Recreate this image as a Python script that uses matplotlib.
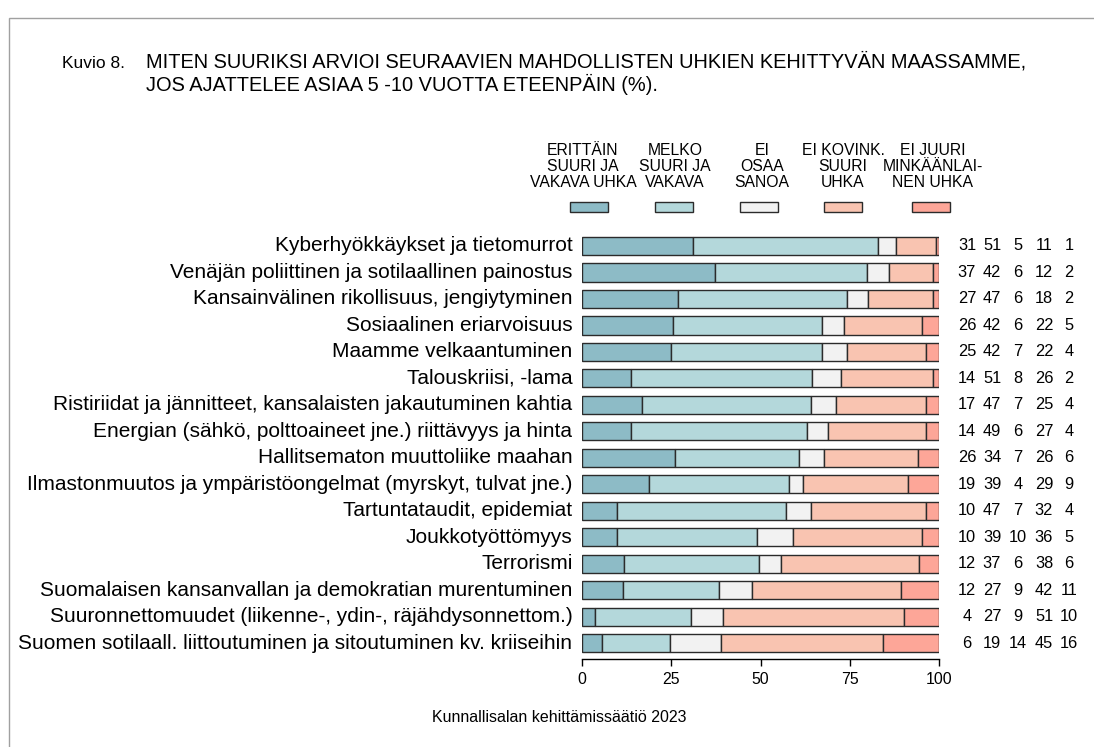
import matplotlib
matplotlib.use("Agg")
import matplotlib.pyplot as plt
import matplotlib.patches as mpatches

plt.rcParams["font.family"] = ["Liberation Sans", "DejaVu Sans"]

# ── data ─────────────────────────────────────────────────────────────────────
categories = [
    "Kyberhyökkäykset ja tietomurrot",
    "Venäjän poliittinen ja sotilaallinen painostus",
    "Kansainvälinen rikollisuus, jengiytyminen",
    "Sosiaalinen eriarvoisuus",
    "Maamme velkaantuminen",
    "Talouskriisi, -lama",
    "Ristiriidat ja jännitteet, kansalaisten jakautuminen kahtia",
    "Energian (sähkö, polttoaineet jne.) riittävyys ja hinta",
    "Hallitsematon muuttoliike maahan",
    "Ilmastonmuutos ja ympäristöongelmat (myrskyt, tulvat jne.)",
    "Tartuntataudit, epidemiat",
    "Joukkotyöttömyys",
    "Terrorismi",
    "Suomalaisen kansanvallan ja demokratian murentuminen",
    "Suuronnettomuudet (liikenne-, ydin-, räjähdysonnettom.)",
    "Suomen sotilaall. liittoutuminen ja sitoutuminen kv. kriiseihin",
]

# bar lengths (unrounded)
very_big = [31.2, 37.3, 27.0, 25.6, 24.9, 13.7, 16.8, 13.8, 26.2, 18.8, 9.8, 9.8, 11.9, 11.6, 3.8, 5.8]
fairly_big = [51.7, 42.6, 47.1, 41.7, 42.2, 50.6, 47.2, 49.3, 34.5, 39.2, 47.2, 39.1, 37.6, 26.9, 26.8, 19.0]
dont_know = [5.0, 6.1, 6.0, 6.0, 7.0, 8.1, 7.0, 5.9, 7.1, 4.0, 7.0, 10.1, 6.1, 9.0, 9.0, 14.1]
not_very = [11.2, 12.1, 18.0, 22.0, 22.2, 25.7, 25.3, 27.3, 26.3, 29.2, 32.3, 36.3, 38.6, 41.7, 50.6, 45.3]
not_at_all = [0.9, 1.9, 1.9, 4.7, 3.7, 1.9, 3.7, 3.7, 5.9, 8.8, 3.7, 4.7, 5.8, 10.8, 9.8, 15.8]

# printed percentages on the right
printed = [
    [31, 51, 5, 11, 1], [37, 42, 6, 12, 2], [27, 47, 6, 18, 2], [26, 42, 6, 22, 5],
    [25, 42, 7, 22, 4], [14, 51, 8, 26, 2], [17, 47, 7, 25, 4], [14, 49, 6, 27, 4],
    [26, 34, 7, 26, 6], [19, 39, 4, 29, 9], [10, 47, 7, 32, 4], [10, 39, 10, 36, 5],
    [12, 37, 6, 38, 6], [12, 27, 9, 42, 11], [4, 27, 9, 51, 10], [6, 19, 14, 45, 16],
]

legend_labels = [
    "ERITTÄIN\nSUURI JA\nVAKAVA UHKA",
    "MELKO\nSUURI JA\nVAKAVA",
    "EI\nOSAA\nSANOA",
    "EI KOVINK.\nSUURI\nUHKA",
    "EI JUURI\nMINKÄÄNLAI-\nNEN UHKA",
]
colors = ["#8DBBC6", "#B4D8DB", "#F2F2F2", "#F9C4B1", "#FDA698"]

W, H = 1094, 747
fig = plt.figure(figsize=(W / 100, H / 100), dpi=100, facecolor="white")

def fx(px):
    return px / W

def fy(py):
    return 1 - py / H

# outer frame (only top and left visible)
fig.add_artist(mpatches.Rectangle((fx(9), fy(H + 10)), 2, (H + 1 - 9) / H,
                                  transform=fig.transFigure, fill=False,
                                  edgecolor="#A0A0A0", linewidth=1))

# ── title ────────────────────────────────────────────────────────────────────
fig.text(fx(62), fy(64), "Kuvio 8.", fontsize=12.5, va="center", ha="left")
fig.text(fx(146), fy(62), "MITEN SUURIKSI ARVIOI SEURAAVIEN MAHDOLLISTEN UHKIEN KEHITTYVÄN MAASSAMME,",
         fontsize=14.4, va="center", ha="left")
fig.text(fx(146), fy(84), "JOS AJATTELEE ASIAA 5 -10 VUOTTA ETEENPÄIN (%).",
         fontsize=14.4, va="center", ha="left")

# ── bars ─────────────────────────────────────────────────────────────────────
ax = fig.add_axes([fx(581.7), fy(659), fx(939.3) - fx(581.7), fy(230.1) - fy(659)])
series = [very_big, fairly_big, dont_know, not_very, not_at_all]
ypos = list(range(len(categories)))
left = [0.0] * len(categories)
for vals, col in zip(series, colors):
    ax.barh(ypos, vals, left=left, height=0.69, color=col,
            edgecolor="#2b2b2b", linewidth=1.0)
    left = [l + v for l, v in zip(left, vals)]

ax.set_xlim(0, 100)
ax.set_ylim(len(categories) - 0.4, -0.6)
for s in ("top", "right", "left"):
    ax.spines[s].set_visible(False)
ax.spines["bottom"].set_linewidth(1)
ax.set_yticks([])
ax.set_xticks([0, 25, 50, 75, 100])
ax.tick_params(axis="x", length=5, width=1, labelsize=11.4, pad=4)
ax.set_facecolor("none")

for i, cat in enumerate(categories):
    ax.text(-2.6, i, cat, ha="right", va="center", fontsize=15.0, clip_on=False)

num_x = [967, 992, 1018, 1044, 1069]
for i, row in enumerate(printed):
    ypx = 246 + i * 26.47
    for x, v in zip(num_x, row):
        fig.text(fx(x), fy(ypx), str(v), ha="center", va="center", fontsize=11.8)

# ── legend ───────────────────────────────────────────────────────────────────
leg_box_x = [589, 674, 759, 843, 930.5]
leg_text_x = [583, 675, 762, 843, 933]
for bx, tx, lab, col in zip(leg_box_x, leg_text_x, legend_labels, colors):
    fig.add_artist(mpatches.Rectangle((fx(bx - 19), fy(211.7)), fx(38), 10 / H,
                                      transform=fig.transFigure, facecolor=col,
                                      edgecolor="#2b2b2b", linewidth=1))
    fig.text(fx(tx), fy(143), lab, ha="center", va="top", fontsize=11.3,
             linespacing=1.1)

fig.text(fx(559), fy(717), "Kunnallisalan kehittämissäätiö 2023",
         ha="center", va="center", fontsize=11.5)

fig.savefig("out.png", dpi=100)
